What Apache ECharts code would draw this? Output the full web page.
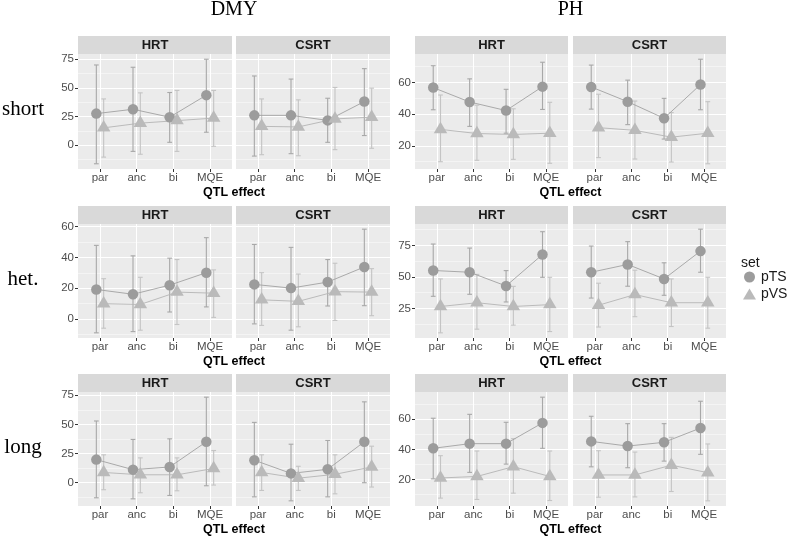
<!DOCTYPE html>
<html>
<head>
<meta charset="utf-8">
<script src="https://cdn.jsdelivr.net/npm/echarts@6/dist/echarts.min.js"></script>
<style>html,body{margin:0;padding:0;background:#fff;}#c{width:787px;height:537px;}</style>
</head>
<body>
<div id="c"></div>
<script>
// ---------- data ----------
const categories = ['par', 'anc', 'bi', 'MQE'];
const traits = ['DMY', 'PH'];
const schemes = ['HRT', 'CSRT'];
const rowLabels = ['short', 'het.', 'long'];
const setNames = ['pTS', 'pVS'];
const xTitle = 'QTL effect';
const legendTitle = 'set';

// each entry: [mean, lower, upper] for par, anc, bi, MQE
const DMY_short_HRT_pTS  = [[27.6, -16.1, 70.0], [31.4, -5.3, 68.0], [24.5, 2.6, 46.0], [43.7, 11.4, 75.0]];
const DMY_short_HRT_pVS  = [[15.2, -10.3, 40.4], [19.3, -7.8, 45.7], [21.5, -5.3, 47.8], [23.7, -0.9, 47.8]];
const DMY_short_CSRT_pTS = [[26.1, -9.4, 60.4], [26.1, -7.3, 57.7], [21.7, 2.6, 41.0], [38.1, 8.5, 66.8]];
const DMY_short_CSRT_pVS = [[16.5, -8.2, 40.4], [16.0, -9.1, 39.6], [23.0, -3.8, 50.4], [24.5, -2.6, 49.8]];

const DMY_het_HRT_pTS  = [[19.2, -8.9, 47.8], [16.1, -8.1, 41.0], [22.0, 4.6, 39.5], [30.1, 7.9, 52.8]];
const DMY_het_HRT_pVS  = [[10.0, -5.9, 26.2], [9.5, -7.2, 27.1], [17.5, -3.5, 38.6], [16.8, 1.1, 31.9]];
const DMY_het_CSRT_pTS = [[22.5, -3.1, 48.4], [20.1, -7.2, 46.5], [24.0, 8.5, 38.6], [33.8, 8.7, 58.3]];
const DMY_het_CSRT_pVS = [[12.5, -4.1, 30.1], [11.5, -5.0, 29.2], [17.8, -0.9, 36.2], [17.5, 2.2, 32.7]];

const DMY_long_HRT_pTS  = [[19.8, -12.9, 52.9], [11.2, -13.8, 37.1], [13.5, -10.9, 37.6], [35.1, -2.6, 73.3]];
const DMY_long_HRT_pVS  = [[8.8, -6.0, 23.9], [6.8, -8.6, 21.3], [6.8, -6.9, 21.3], [12.2, -2.0, 27.6]];
const DMY_long_CSRT_pTS = [[19.3, -12.1, 51.7], [8.0, -15.5, 33.0], [11.5, -12.1, 36.2], [35.1, 0.0, 69.3]];
const DMY_long_CSRT_pVS = [[8.8, -6.6, 23.9], [3.9, -6.6, 14.1], [7.2, -9.5, 23.9], [13.5, -3.7, 31.3]];

const PH_short_HRT_pTS  = [[56.8, 42.8, 70.6], [47.7, 32.3, 62.3], [42.3, 28.0, 55.7], [57.4, 43.0, 72.8]];
const PH_short_HRT_pVS  = [[30.4, 10.0, 52.1], [27.8, 10.9, 45.7], [27.2, 11.5, 43.4], [28.0, 9.0, 47.5]];
const PH_short_CSRT_pTS = [[57.2, 43.2, 71.0], [47.9, 33.4, 61.5], [37.4, 24.3, 50.0], [58.7, 42.8, 74.7]];
const PH_short_CSRT_pVS = [[31.5, 12.6, 52.6], [29.8, 11.7, 48.3], [25.5, 9.8, 41.0], [28.0, 8.7, 47.9]];

const PH_het_HRT_pTS  = [[55.1, 34.6, 76.1], [53.7, 36.2, 72.9], [42.8, 30.1, 55.0], [67.8, 49.7, 85.9]];
const PH_het_HRT_pVS  = [[26.5, 5.6, 48.4], [29.5, 8.5, 52.0], [26.5, 11.7, 42.5], [28.0, 6.6, 49.7]];
const PH_het_CSRT_pTS = [[53.7, 33.2, 74.5], [59.9, 42.6, 78.0], [48.4, 35.4, 61.2], [70.5, 53.7, 87.9]];
const PH_het_CSRT_pVS = [[27.5, 10.2, 45.0], [36.0, 18.4, 55.3], [29.5, 10.6, 48.4], [29.5, 9.3, 49.7]];

const PH_long_HRT_pTS  = [[40.7, 20.4, 60.7], [43.8, 24.7, 63.3], [43.8, 30.2, 58.0], [57.6, 40.7, 74.7]];
const PH_long_HRT_pVS  = [[21.0, 7.6, 35.8], [22.0, 6.7, 38.9], [28.5, 10.9, 47.1], [22.0, 6.0, 38.9]];
const PH_long_CSRT_pTS = [[45.3, 28.4, 62.0], [42.2, 27.8, 57.1], [44.7, 32.2, 57.1], [54.2, 36.7, 72.0]];
const PH_long_CSRT_pVS = [[23.0, 8.2, 39.1], [23.0, 8.4, 38.2], [29.5, 12.0, 48.0], [24.5, 5.8, 43.6]];

// y tick labels per trait and row
const DMY_ticks = [[0, 25, 50, 75], [0, 20, 40, 60], [0, 25, 50, 75]];
const PH_ticks  = [[20, 40, 60], [25, 50, 75], [20, 40, 60]];

const panelData = {
  DMY: [
    [[DMY_short_HRT_pTS, DMY_short_HRT_pVS], [DMY_short_CSRT_pTS, DMY_short_CSRT_pVS]],
    [[DMY_het_HRT_pTS, DMY_het_HRT_pVS], [DMY_het_CSRT_pTS, DMY_het_CSRT_pVS]],
    [[DMY_long_HRT_pTS, DMY_long_HRT_pVS], [DMY_long_CSRT_pTS, DMY_long_CSRT_pVS]]
  ],
  PH: [
    [[PH_short_HRT_pTS, PH_short_HRT_pVS], [PH_short_CSRT_pTS, PH_short_CSRT_pVS]],
    [[PH_het_HRT_pTS, PH_het_HRT_pVS], [PH_het_CSRT_pTS, PH_het_CSRT_pVS]],
    [[PH_long_HRT_pTS, PH_long_HRT_pVS], [PH_long_CSRT_pTS, PH_long_CSRT_pVS]]
  ]
};
const tickData = { DMY: DMY_ticks, PH: PH_ticks };

// ---------- layout & style ----------
const SANS = '"Liberation Sans", Arial, sans-serif';
const SERIF = '"Liberation Serif", "Times New Roman", serif';
const colLeft = [78, 236, 415, 573];
const colWidth = [154, 154, 153, 153];
const plotTop = [54, 224, 392];
const plotHeight = [115, 114, 114];
const stripH = 18;
const dodge = [-0.1, 0.1];
const capHalf = 0.065;
const pointColor = ['#9c9c9c', '#bababa'];
const barColor = ['#a8a8a8', '#c4c4c4'];
const lineColor = ['#a2a2a2', '#b4b4b4'];
const symbols = ['circle', 'triangle'];
const symbolSizes = [10.5, [13.5, 11.5]];
const symbolOffsets = [[0, 0], [0, -2]];

const grid = [], xAxis = [], yAxis = [], series = [], graphic = [];

function yRange(trait, r) {
  let lo = Infinity, hi = -Infinity;
  panelData[trait][r].forEach(p => p.forEach(s => s.forEach(d => {
    lo = Math.min(lo, d[1]); hi = Math.max(hi, d[2]);
  })));
  const e = (hi - lo) * 0.05;
  return [lo - e, hi + e];
}

for (let r = 0; r < 3; r++) {
  traits.forEach((trait, t) => {
    const [ymin, ymax] = yRange(trait, r);
    const majors = tickData[trait][r];
    const step = majors[1] - majors[0];
    const minors = [];
    for (let v = majors[0] - step / 2; v <= ymax; v += step) if (v >= ymin) minors.push(v);
    for (let v = majors[0] - step * 1.5; v >= ymin; v -= step) minors.push(v);

    schemes.forEach((scheme, s) => {
      const c = t * 2 + s;
      const g = grid.length;
      grid.push({
        left: colLeft[c], top: plotTop[r], width: colWidth[c], height: plotHeight[r],
        show: true, backgroundColor: '#EBEBEB', borderWidth: 0, containLabel: false
      });
      xAxis.push({
        gridIndex: g, type: 'value', min: 0.4, max: 4.6, position: 'bottom',
        axisLine: { show: false, onZero: false },
        axisTick: { show: true, customValues: [1, 2, 3, 4], length: 3, lineStyle: { color: '#333333', width: 1 } },
        axisLabel: {
          show: true, customValues: [1, 2, 3, 4], margin: 3,
          formatter: v => categories[Math.round(v) - 1],
          color: '#4D4D4D', fontSize: 11.5, fontFamily: SANS
        },
        splitLine: { show: true, lineStyle: { color: '#FFFFFF', width: 1 } }
      });
      const showY = s === 0;
      yAxis.push({
        gridIndex: g, type: 'value', min: ymin, max: ymax, position: 'left',
        axisLine: { show: false, onZero: false },
        axisTick: { show: showY, customValues: majors, length: 3, lineStyle: { color: '#333333', width: 1 } },
        axisLabel: { show: showY, customValues: majors, margin: 4, color: '#4D4D4D', fontSize: 11.5, fontFamily: SANS },
        splitLine: { show: true, lineStyle: { color: '#FFFFFF', width: 1 } },
        z: 1
      });
      yAxis.push({
        gridIndex: g, type: 'value', min: ymin, max: ymax, position: 'left',
        axisLine: { show: false, onZero: false },
        axisTick: { show: false, customValues: minors },
        axisLabel: { show: false },
        splitLine: { show: true, lineStyle: { color: '#FFFFFF', width: 0.5, opacity: 0.9 } },
        z: 0
      });
      const yIdx = yAxis.length - 2;

      setNames.forEach((name, k) => {
        const rows = panelData[trait][r][s][k].map((d, i) => [i + 1 + dodge[k], d[0], d[1], d[2]]);
        series.push({
          name, type: 'custom', xAxisIndex: g, yAxisIndex: yIdx, z: 2,
          data: rows, encode: { x: 0, y: 1 },
          renderItem: (params, api) => {
            const x = api.value(0), lo = api.value(2), hi = api.value(3);
            const pt = api.coord([x, hi]), pb = api.coord([x, lo]);
            const xl = api.coord([x - capHalf, hi])[0], xr = api.coord([x + capHalf, hi])[0];
            const st = { stroke: barColor[k], lineWidth: 1.1 };
            return {
              type: 'group', children: [
                { type: 'line', shape: { x1: pt[0], y1: pt[1], x2: pb[0], y2: pb[1] }, style: st },
                { type: 'line', shape: { x1: xl, y1: pt[1], x2: xr, y2: pt[1] }, style: st },
                { type: 'line', shape: { x1: xl, y1: pb[1], x2: xr, y2: pb[1] }, style: st }
              ]
            };
          }
        });
        series.push({
          name, type: 'line', xAxisIndex: g, yAxisIndex: yIdx, z: 3,
          data: rows.map(d => [d[0], d[1]]), showSymbol: false, symbol: 'none',
          lineStyle: { color: lineColor[k], width: 0.9 }, itemStyle: { color: pointColor[k] }
        });
        series.push({
          name, type: 'scatter', xAxisIndex: g, yAxisIndex: yIdx, z: 4,
          data: rows.map(d => [d[0], d[1]]),
          symbol: symbols[k], symbolSize: symbolSizes[k], symbolOffset: symbolOffsets[k],
          itemStyle: { color: pointColor[k], opacity: 1 }
        });
      });

      // strip
      graphic.push({
        type: 'rect', left: colLeft[c], top: plotTop[r] - stripH,
        shape: { width: colWidth[c], height: stripH }, style: { fill: '#D9D9D9' }, silent: true
      });
      graphic.push({
        type: 'text', x: colLeft[c] + colWidth[c] / 2, y: plotTop[r] - stripH / 2 + 0.5,
        style: { text: scheme, fill: '#1A1A1A', font: 'bold 13px ' + SANS, textAlign: 'center', textVerticalAlign: 'middle' },
        silent: true
      });
    });

    // x-axis title
    const cx = (colLeft[t * 2] + colLeft[t * 2 + 1] + colWidth[t * 2 + 1]) / 2;
    graphic.push({
      type: 'text', x: cx, y: plotTop[r] + plotHeight[r] + 24,
      style: { text: xTitle, fill: '#000000', font: 'bold 12.5px ' + SANS, textAlign: 'center', textVerticalAlign: 'middle' },
      silent: true
    });
  });

  graphic.push({
    type: 'text', x: 23, y: plotTop[r] + plotHeight[r] / 2 - 2,
    style: { text: rowLabels[r], fill: '#000000', font: '21px ' + SERIF, textAlign: 'center', textVerticalAlign: 'middle' },
    silent: true
  });
}

traits.forEach((trait, t) => {
  const cx = (colLeft[t * 2] + colLeft[t * 2 + 1] + colWidth[t * 2 + 1]) / 2;
  graphic.push({
    type: 'text', x: cx, y: 10,
    style: { text: trait, fill: '#000000', font: '20px ' + SERIF, textAlign: 'center', textVerticalAlign: 'middle' },
    silent: true
  });
});

graphic.push({
  type: 'text', x: 741, y: 263,
  style: { text: legendTitle, fill: '#1A1A1A', font: '14px ' + SANS, textAlign: 'left', textVerticalAlign: 'middle' },
  silent: true
});

const chart = echarts.init(document.getElementById('c'), null, { renderer: 'canvas' });
chart.setOption({
  animation: false,
  backgroundColor: '#FFFFFF',
  grid, xAxis, yAxis, series, graphic,
  legend: {
    orient: 'vertical', left: 743, top: 270, padding: 0, itemWidth: 13, itemHeight: 11, itemGap: 3,
    selectedMode: false,
    textStyle: { fontSize: 14, color: '#1A1A1A', fontFamily: SANS },
    data: [
      { name: setNames[0], icon: symbols[0], itemStyle: { color: pointColor[0] } },
      { name: setNames[1], icon: symbols[1], itemStyle: { color: pointColor[1] } }
    ]
  }
});
</script>
</body>
</html>
